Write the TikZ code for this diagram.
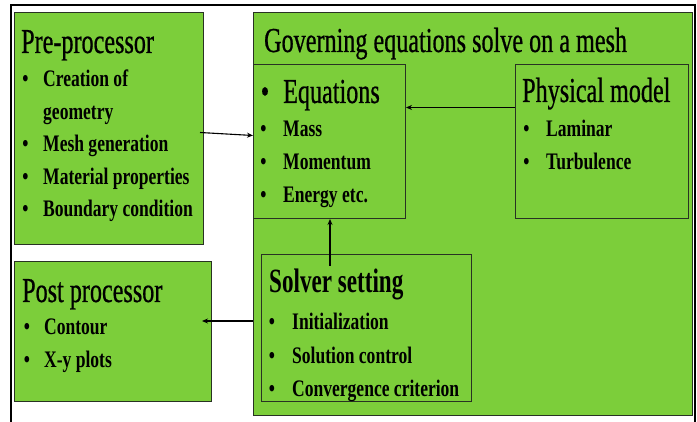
\documentclass[tikz,border=0pt]{standalone}
\usepackage{fontspec}
\usetikzlibrary{arrows.meta}
\setmainfont{Liberation Serif}
\newfontfamily\condfam[FakeStretch=0.74]{Liberation Serif}
\newfontfamily\ttlfam[FakeStretch=0.69,FakeBold=0.6]{Liberation Serif}
\newfontfamily\solfam[FakeStretch=0.68]{Liberation Serif}
\newcommand\ttlfont{\ttlfam\fontsize{35}{37}\selectfont}
\newcommand\solfont{\solfam\bfseries\fontsize{34}{36}\selectfont}
\newcommand\itmfont{\condfam\bfseries\fontsize{23.7}{25}\selectfont}
\definecolor{boxgreen}{RGB}{124,206,58}
\definecolor{edge}{RGB}{40,50,35}
\tikzset{
  box/.style={draw=edge, line width=1pt, fill=boxgreen, anchor=north west, inner sep=0pt},
  ttl/.style={anchor=base west, inner sep=0pt, font=\ttlfont},
  sol/.style={anchor=base west, inner sep=0pt, font=\solfont},
  itm/.style={anchor=base west, inner sep=0pt, font=\itmfont},
  bul/.style={anchor=base, inner sep=0pt, font=\itmfont},
  bigbul/.style={anchor=base, inner sep=0pt, font=\ttlfont},
  arr/.style={draw=black, line width=1.1pt, -{Stealth[length=6pt,width=5pt]}},
  frame/.style={draw=black, line width=2pt}
}
\begin{document}
\begin{tikzpicture}[x=1pt,y=-1pt]
\useasboundingbox (0,0) rectangle (697,422);
\fill[white] (0,0) rectangle (697,422);
% outer frame
\draw[frame] (11,430) -- (11,5) -- (695,5) -- (695,430);
% boxes
\node[box, minimum width=189pt, minimum height=232pt] (pre) at (14,12) {};
\node[box, minimum width=197pt, minimum height=140pt] (post) at (14,261) {};
\node[box, minimum width=439pt, minimum height=403pt] (gov) at (253,12) {};
\node[box, minimum width=152pt, minimum height=154pt] (eq) at (253,64) {};
\node[box, minimum width=173pt, minimum height=154pt] (phys) at (515,64) {};
\node[box, minimum width=210pt, minimum height=147pt] (solv) at (261,254) {};
% Pre-processor
\node[ttl] (preT) at (21,53) {Pre-processor};
\node[bul] (preB1) at (25.5,87) {•};
\node[itm] (preI1) at (43,87) {Creation of};
\node[itm] (preI1b) at (43,119.5) {geometry};
\node[bul] (preB2) at (25.5,152) {•};
\node[itm] (preI2) at (43,152) {Mesh generation};
\node[bul] (preB3) at (25.5,185) {•};
\node[itm] (preI3) at (43,185) {Material properties};
\node[bul] (preB4) at (25.5,217) {•};
\node[itm] (preI4) at (43,217) {Boundary condition};
% Governing
\node[ttl] (govT) at (264,52) {Governing equations solve on a mesh};
% Equations
\node[bigbul] (eqB0) at (265,103) {•};
\node[ttl] (eqT) at (283,103) {Equations};
\node[bul] (eqB1) at (263.5,137) {•};
\node[itm] (eqI1) at (283,137) {Mass};
\node[bul] (eqB2) at (263.5,170) {•};
\node[itm] (eqI2) at (283,170) {Momentum};
\node[bul] (eqB3) at (263.5,203) {•};
\node[itm] (eqI3) at (283,203) {Energy etc.};
% Physical model
\node[ttl] (phT) at (522,102) {Physical model};
\node[bul] (phB1) at (526.5,137) {•};
\node[itm] (phI1) at (546,137) {Laminar};
\node[bul] (phB2) at (526.5,170) {•};
\node[itm] (phI2) at (546,170) {Turbulence};
% Solver setting
\node[sol] (soT) at (269,293) {Solver setting};
\node[bul] (soB1) at (272,330) {•};
\node[itm] (soI1) at (292,330) {Initialization};
\node[bul] (soB2) at (272,363) {•};
\node[itm] (soI2) at (292,363) {Solution control};
\node[bul] (soB3) at (272,396) {•};
\node[itm] (soI3) at (292,396) {Convergence criterion};
% Post processor
\node[ttl] (poT) at (22,302) {Post processor};
\node[bul] (poB1) at (27,335) {•};
\node[itm] (poI1) at (44,335) {Contour};
\node[bul] (poB2) at (27,367) {•};
\node[itm] (poI2) at (44,367) {X-y plots};
% connectors
\draw[arr] ([xshift=-4pt,yshift=-4pt]pre.east) -- ([yshift=6pt]eq.west);
\draw[arr] ([yshift=34pt]phys.west) -- ([yshift=34pt]eq.east);
\coordinate (s1) at (330,266);
\draw[arr] (s1) -- (s1 |- eq.south);
\coordinate (p1) at (202,321);
\draw[arr] (gov.west |- p1) -- (p1);
\end{tikzpicture}
\end{document}
